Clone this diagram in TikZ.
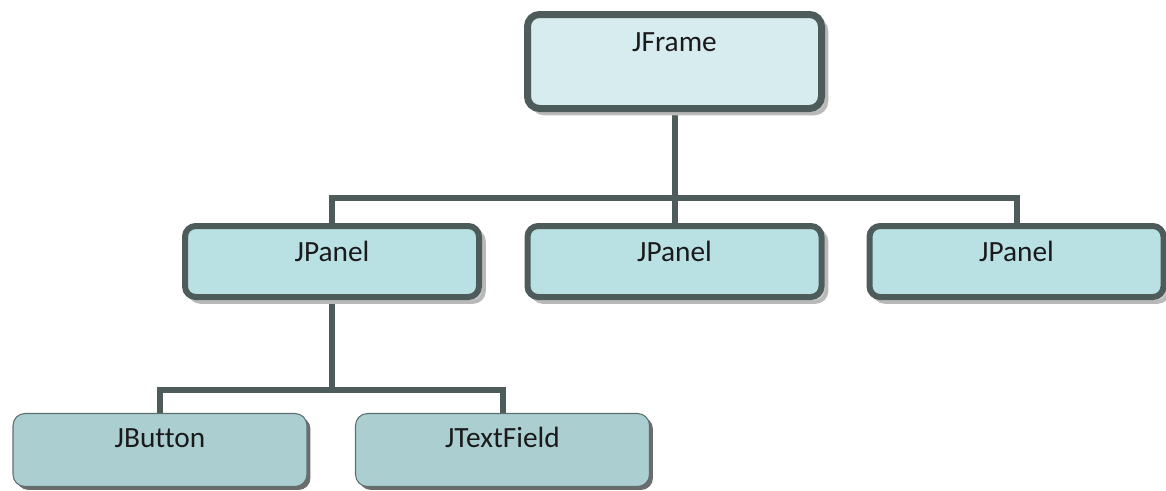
\documentclass[tikz,border=0pt]{standalone}
\usepackage{fontspec}
\setmainfont[Ligatures={NoCommon}]{Carlito}
\usetikzlibrary{shadows}
\definecolor{edge}{HTML}{4E5B5B}
\definecolor{framefill}{HTML}{D7ECEF}
\definecolor{panelfill}{HTML}{B9E0E3}
\definecolor{leaffill}{HTML}{ABCFD1}
\definecolor{thinedge}{HTML}{5F6E6E}
\definecolor{txt}{HTML}{1A1A1A}
\tikzset{
  every node/.style={font=\fontsize{22}{26}\selectfont, text=txt},
  topbox/.style={rectangle, rounded corners=9pt, draw=edge, line width=5.25pt,
    minimum width=220.5pt, inner sep=0pt, text height=0pt,
    general shadow={shadow xshift=3.6pt, shadow yshift=-3.6pt, fill=gray!38, draw=gray!55, line width=3pt}},
  framebox/.style={topbox, fill=framefill, minimum height=70.5pt, text depth=15.2pt},
  panelbox/.style={topbox, line width=4.5pt, rounded corners=8pt, fill=panelfill, minimum height=53.25pt, text depth=0.3pt},
  leafbox/.style={rectangle, rounded corners=9pt, draw=thinedge, line width=0.8pt, fill=leaffill,
    minimum width=220.5pt, minimum height=54.75pt, inner sep=0pt, text height=0pt, text depth=4pt,
    general shadow={shadow xshift=2.6pt, shadow yshift=-2.6pt, fill=gray!85!black}},
  link/.style={draw=edge, line width=4.5pt}
}
\begin{document}
\begin{tikzpicture}[x=0.75pt, y=-0.75pt]
\useasboundingbox (0,0) rectangle (1166,490);
% connectors first (boxes cover their ends)
\coordinate (bus1) at (0,197.5);
\coordinate (bus2) at (0,390);
\path (674.5,61.5) coordinate (fc);
\path (332,261.5) coordinate (p1c);
\path (674.5,261.5) coordinate (p2c);
\path (1016.5,261.5) coordinate (p3c);
\path (160,450) coordinate (c1c);
\path (502.5,450) coordinate (c2c);
\draw[link] (fc) -- (p2c);
\draw[link] (p1c) |- (p3c |- bus1) -- (p3c);
\draw[link] (p1c) -- (p1c |- bus2);
\draw[link] (c1c) |- (c2c |- bus2) -- (c2c);
% boxes
\node[framebox] (f) at (fc) {JFrame};
\node[panelbox] (p1) at (p1c) {JPanel};
\node[panelbox] (p2) at (p2c) {JPanel};
\node[panelbox] (p3) at (p3c) {JPanel};
\node[leafbox] (c1) at (c1c) {JButton};
\node[leafbox] (c2) at (c2c) {JTextField};
\end{tikzpicture}
\end{document}
